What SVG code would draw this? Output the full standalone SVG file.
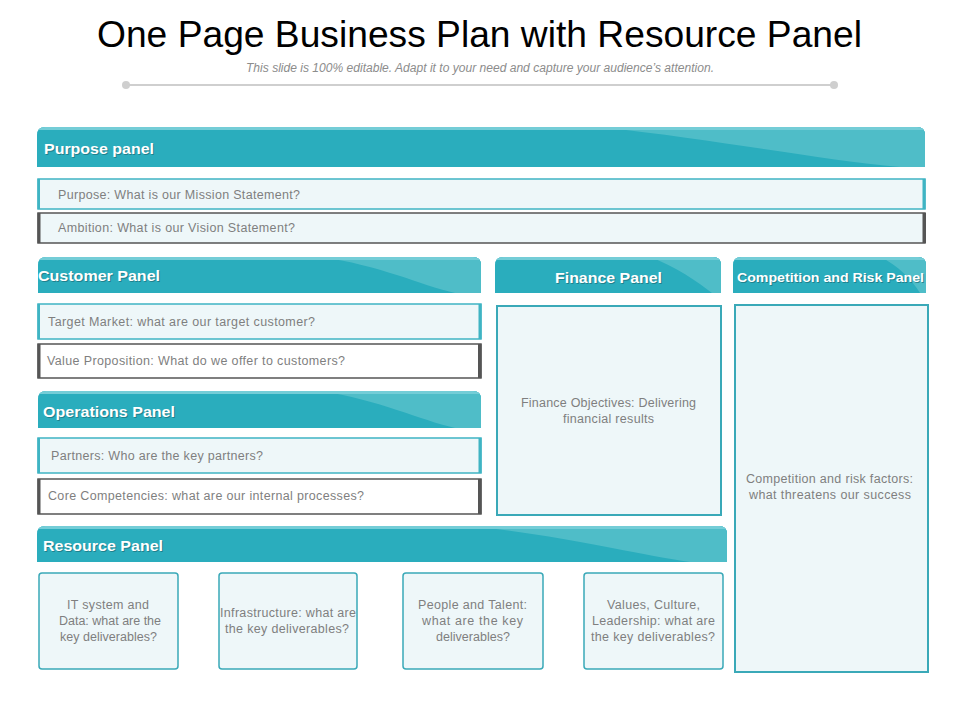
<svg xmlns="http://www.w3.org/2000/svg" width="960" height="720" viewBox="0 0 960 720">
<defs>
<style>
.hdr{fill:#2aadbd}
.sw{fill:#4fbdc8}
.top{fill:#74cdd7}
.ht{font-family:"Liberation Sans",Arial,sans-serif;font-weight:bold;fill:#fff;font-size:15.5px}
.hs{font-family:"Liberation Sans",Arial,sans-serif;font-weight:bold;fill:#1d6f79;font-size:15.5px;opacity:0.7}
.lrow{fill:#eef7f9;stroke:#3fb4c3;stroke-width:1.5}
.drow{stroke:#555;stroke-width:1.5}
.tbar{fill:#3fb4c3}
.dbar{fill:#555}
.bt{font-family:"Liberation Sans",Arial,sans-serif;fill:#7f7f7f;font-size:12.5px}
.box{fill:#eef7f9;stroke:#3aa9b8;stroke-width:1.5}
.big{fill:#eef7f9;stroke:#3aa9b8;stroke-width:2}
</style>
<clipPath id="cPurpose"><path d="M37,167 V135 Q37,127 45,127 H917 Q925,127 925,135 V167 Z"/></clipPath>
<clipPath id="cCustomer"><path d="M38,293 V265 Q38,257 46,257 H473 Q481,257 481,265 V293 Z"/></clipPath>
<clipPath id="cOperations"><path d="M38,428 V399 Q38,391 46,391 H473 Q481,391 481,399 V428 Z"/></clipPath>
<clipPath id="cResource"><path d="M37,562 V534 Q37,526 45,526 H719 Q727,526 727,534 V562 Z"/></clipPath>
<clipPath id="cFinance"><path d="M495,293 V265 Q495,257 503,257 H713 Q721,257 721,265 V293 Z"/></clipPath>
<clipPath id="cComp"><path d="M733,293 V265 Q733,257 741,257 H918 Q926,257 926,265 V293 Z"/></clipPath>
</defs>
<rect width="960" height="720" fill="#fff"/>

<g id="title">
<text x="97" y="47" font-family="'Liberation Sans',Arial,sans-serif" font-size="37" fill="#000" textLength="765" lengthAdjust="spacingAndGlyphs">One Page Business Plan with Resource Panel</text>
<text x="480" y="72" text-anchor="middle" font-family="'Liberation Sans',Arial,sans-serif" font-size="12" font-style="italic" fill="#8c8c8c" textLength="468" lengthAdjust="spacingAndGlyphs">This slide is 100% editable. Adapt it to your need and capture your audience’s attention.</text>
<line x1="126" y1="85" x2="834" y2="85" stroke="#cfcfcf" stroke-width="2"/>
<circle cx="126" cy="85" r="4" fill="#cfcfcf"/>
<circle cx="834" cy="85" r="4" fill="#cfcfcf"/>
</g>

<g id="purpose-header">
<g clip-path="url(#cPurpose)">
<rect class="hdr" x="37" y="127" width="888" height="40"/>
<path class="sw" d="M600,127 C720,140 820,160 900,167 H925 V127 Z"/>
<rect class="top" x="37" y="127" width="888" height="3"/>
</g>
<text class="hs" x="45" y="155" textLength="110" lengthAdjust="spacingAndGlyphs">Purpose panel</text>
<text class="ht" x="44" y="154" textLength="110" lengthAdjust="spacingAndGlyphs">Purpose panel</text>
</g>

<g id="purpose-row">
<rect class="lrow" x="38" y="179" width="887" height="30"/>
<rect class="tbar" x="37.5" y="179" width="2.5" height="30"/>
<rect class="tbar" x="922.5" y="179" width="3" height="30"/>
<text class="bt" x="58" y="199" textLength="242" lengthAdjust="spacing">Purpose:  What is our Mission Statement?</text>
</g>
<g id="ambition-row">
<rect class="drow" x="38" y="213" width="887" height="30" fill="#eef7f9"/>
<rect class="dbar" x="37.5" y="213" width="3" height="30"/>
<rect class="dbar" x="922.5" y="213" width="3.5" height="30"/>
<text class="bt" x="58" y="232" textLength="237" lengthAdjust="spacing">Ambition: What is our Vision Statement?</text>
</g>

<g id="customer-header">
<g clip-path="url(#cCustomer)">
<rect class="hdr" x="38" y="257" width="443" height="36"/>
<path class="sw" d="M320,257 C380,265 420,285 455,293 H481 V257 Z"/>
<rect class="top" x="38" y="257" width="443" height="3"/>
</g>
<text class="hs" x="39" y="282" textLength="122" lengthAdjust="spacingAndGlyphs">Customer Panel</text>
<text class="ht" x="38" y="281" textLength="122" lengthAdjust="spacingAndGlyphs">Customer Panel</text>
</g>
<g id="target-row">
<rect class="lrow" x="38" y="304" width="443" height="35"/>
<rect class="tbar" x="37.5" y="304" width="2.5" height="35"/>
<rect class="tbar" x="478.5" y="304" width="3" height="35"/>
<text class="bt" x="48" y="326" textLength="267" lengthAdjust="spacing">Target Market: what are our target customer?</text>
</g>
<g id="value-row">
<rect class="drow" x="38" y="344" width="443" height="34" fill="#fff"/>
<rect class="dbar" x="37.5" y="344" width="3" height="34"/>
<rect class="dbar" x="478" y="344" width="3.5" height="34"/>
<text class="bt" x="47" y="365" textLength="298" lengthAdjust="spacing">Value Proposition: What do we offer to customers?</text>
</g>

<g id="operations-header">
<g clip-path="url(#cOperations)">
<rect class="hdr" x="38" y="391" width="443" height="37"/>
<path class="sw" d="M320,391 C380,400 420,420 455,428 H481 V391 Z"/>
<rect class="top" x="38" y="391" width="443" height="3"/>
</g>
<text class="hs" x="44" y="418" textLength="132" lengthAdjust="spacingAndGlyphs">Operations Panel</text>
<text class="ht" x="43" y="417" textLength="132" lengthAdjust="spacingAndGlyphs">Operations Panel</text>
</g>
<g id="partners-row">
<rect class="lrow" x="38" y="438" width="443" height="35"/>
<rect class="tbar" x="37.5" y="438" width="2.5" height="35"/>
<rect class="tbar" x="478.5" y="438" width="3" height="35"/>
<text class="bt" x="51" y="460" textLength="212" lengthAdjust="spacing">Partners: Who are the key partners?</text>
</g>
<g id="core-row">
<rect class="drow" x="38" y="479" width="443" height="35" fill="#fff"/>
<rect class="dbar" x="37.5" y="479" width="3" height="35"/>
<rect class="dbar" x="478" y="479" width="3.5" height="35"/>
<text class="bt" x="48" y="500" textLength="316" lengthAdjust="spacing">Core Competencies: what are our internal processes?</text>
</g>

<g id="resource-header">
<g clip-path="url(#cResource)">
<rect class="hdr" x="37" y="526" width="690" height="36"/>
<path class="sw" d="M470,526 C560,535 640,555 690,562 H727 V526 Z"/>
<rect class="top" x="37" y="526" width="690" height="3"/>
</g>
<text class="hs" x="44" y="552" textLength="120" lengthAdjust="spacingAndGlyphs">Resource Panel</text>
<text class="ht" x="43" y="551" textLength="120" lengthAdjust="spacingAndGlyphs">Resource Panel</text>
</g>

<g id="finance-header">
<g clip-path="url(#cFinance)">
<rect class="hdr" x="495" y="257" width="226" height="36"/>
<path class="sw" d="M650,257 C675,266 698,282 712,293 H721 V257 Z"/>
<rect class="top" x="495" y="257" width="226" height="3"/>
</g>
<text class="hs" x="556" y="284" textLength="107" lengthAdjust="spacingAndGlyphs">Finance Panel</text>
<text class="ht" x="555" y="283" textLength="107" lengthAdjust="spacingAndGlyphs">Finance Panel</text>
</g>
<g id="finance-box">
<rect class="big" x="497" y="306" width="224" height="209"/>
<text class="bt" x="521" y="407" textLength="175" lengthAdjust="spacing">Finance Objectives: Delivering</text>
<text class="bt" x="563" y="423" textLength="91" lengthAdjust="spacing">financial results</text>
</g>

<g id="competition-header">
<g clip-path="url(#cComp)">
<rect class="hdr" x="733" y="257" width="193" height="36"/>
<path class="sw" d="M880,257 C898,265 912,280 920,293 H926 V257 Z"/>
<rect class="top" x="733" y="257" width="193" height="3"/>
</g>
<text class="hs" x="738" y="283" textLength="187" lengthAdjust="spacingAndGlyphs" style="font-size:13px">Competition and Risk Panel</text>
<text class="ht" x="737" y="282" textLength="187" lengthAdjust="spacingAndGlyphs" style="font-size:13px">Competition and Risk Panel</text>
</g>
<g id="competition-box">
<rect class="big" x="735" y="305" width="193" height="367"/>
<text class="bt" x="746" y="483" textLength="167" lengthAdjust="spacing">Competition and risk factors:</text>
<text class="bt" x="749" y="499" textLength="162" lengthAdjust="spacing">what threatens our success</text>
</g>

<g id="resource-it">
<rect class="box" x="39" y="573" width="139" height="96" rx="3"/>
<text class="bt" x="67" y="609" textLength="82" lengthAdjust="spacing">IT system and</text>
<text class="bt" x="59" y="625" textLength="102" lengthAdjust="spacing">Data: what are the</text>
<text class="bt" x="60" y="641" textLength="97" lengthAdjust="spacing">key deliverables?</text>
</g>
<g id="resource-infra">
<rect class="box" x="219" y="573" width="138" height="96" rx="3"/>
<text class="bt" x="220" y="617" textLength="136" lengthAdjust="spacing">Infrastructure: what are</text>
<text class="bt" x="225" y="633" textLength="124" lengthAdjust="spacing">the key deliverables?</text>
</g>
<g id="resource-people">
<rect class="box" x="403" y="573" width="140" height="96" rx="3"/>
<text class="bt" x="418" y="609" textLength="109" lengthAdjust="spacing">People and Talent:</text>
<text class="bt" x="422" y="625" textLength="101" lengthAdjust="spacing">what are the key</text>
<text class="bt" x="436" y="641" textLength="74" lengthAdjust="spacing">deliverables?</text>
</g>
<g id="resource-values">
<rect class="box" x="584" y="573" width="139" height="96" rx="3"/>
<text class="bt" x="607" y="609" textLength="93" lengthAdjust="spacing">Values, Culture,</text>
<text class="bt" x="592" y="625" textLength="123" lengthAdjust="spacing">Leadership: what are</text>
<text class="bt" x="591" y="641" textLength="124" lengthAdjust="spacing">the key deliverables?</text>
</g>
<g id="connectors"></g>
</svg>
